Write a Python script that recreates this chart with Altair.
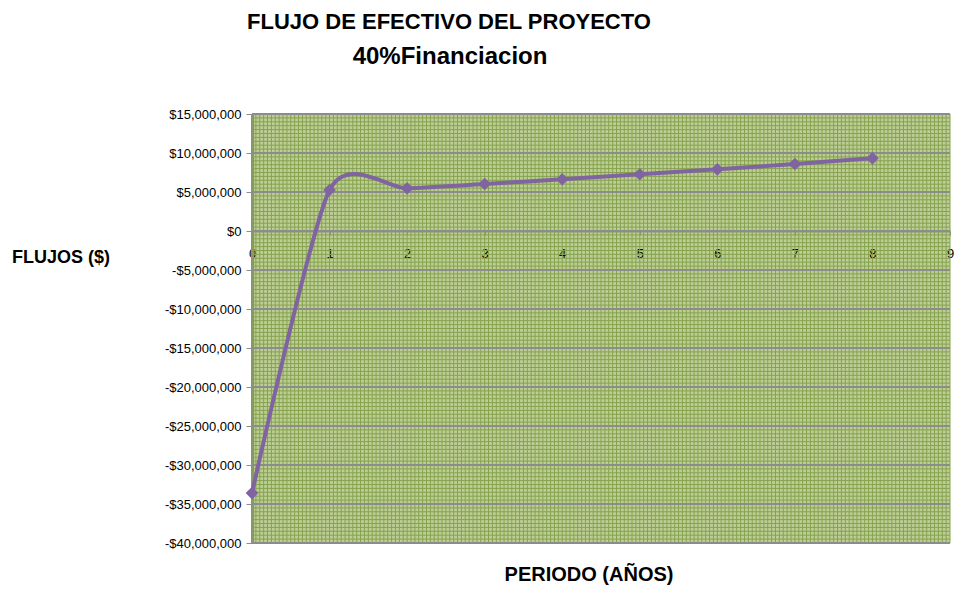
import altair as alt
import numpy as np
import pandas as pd

# ---- data ----
periods = [0, 1, 2, 3, 4, 5, 6, 7, 8]
flujos = [-33600000, 5260000, 5470000, 6030000, 6630000, 7270000, 7910000, 8590000, 9320000]
x_ticks = [0, 1, 2, 3, 4, 5, 6, 7, 8, 9]
y_ticks = [-40000000, -35000000, -30000000, -25000000, -20000000, -15000000,
           -10000000, -5000000, 0, 5000000, 10000000, 15000000]
title_1 = "FLUJO DE EFECTIVO DEL PROYECTO"
title_2 = "40%Financiacion"
x_title = "PERIODO (AÑOS)"
y_title = "FLUJOS ($)"

# background plaid (fine pattern lines)
pattern_x = np.round(np.arange(0, 9.0001, 0.05), 4)
pattern_y = np.arange(-40000000, 15000001, 500000)

W, H = 698, 429
FONT = "Liberation Sans"
PURPLE = "#8064A2"
GRID = "#8C8C8C"

df = pd.DataFrame({"periodo": periods, "flujo": flujos})
xs = alt.Scale(domain=[0, 9], nice=False, zero=False)
ys = alt.Scale(domain=[-40000000, 15000000], nice=False, zero=False)

zero_offset = -round(H * 40 / 55)

label_expr = ("datum.value < 0 ? '-$' + format(-datum.value, ',') : "
              "'$' + format(datum.value, ',')")

x_axis = alt.Axis(values=x_ticks, offset=zero_offset, labelFlush=False,
                  grid=False, domainColor=GRID, domainWidth=2,
                  tickColor=GRID, tickSize=4, tickWidth=1,
                  labelPadding=12, labelFontSize=13, labelFont=FONT,
                  labelColor="#000000", title=None, format="d")
y_axis = alt.Axis(values=y_ticks, labelExpr=label_expr, labelFlush=False,
                  grid=False, domainColor=GRID, domainWidth=3,
                  tickColor=GRID, tickSize=6, tickWidth=1,
                  labelPadding=5, labelFontSize=13, labelFont=FONT,
                  labelColor="#000000", title=None)

bg_x = alt.Chart(pd.DataFrame({"periodo": pattern_x})).mark_rule(
    color="#86A24E", strokeWidth=1
).encode(x=alt.X("periodo:Q", scale=xs, axis=x_axis))

bg_y = alt.Chart(pd.DataFrame({"flujo": pattern_y})).mark_rule(
    color="#86A24E", strokeWidth=1
).encode(y=alt.Y("flujo:Q", scale=ys, axis=y_axis))

major = alt.Chart(pd.DataFrame({"flujo": y_ticks})).mark_rule(
    color=GRID, strokeWidth=2
).encode(y=alt.Y("flujo:Q", scale=ys, axis=y_axis))

base = alt.Chart(df).encode(
    x=alt.X("periodo:Q", scale=xs, axis=x_axis),
    y=alt.Y("flujo:Q", scale=ys, axis=y_axis),
)

line = base.mark_line(interpolate="cardinal", tension=0.3, color=PURPLE, strokeWidth=4)
pts = base.mark_point(shape="diamond", filled=True, size=160, color=PURPLE, opacity=1)

def txt(s, x, y, size):
    return alt.Chart(pd.DataFrame({"t": [s]})).mark_text(
        font=FONT, fontWeight="bold", fontSize=size, color="#000000",
        align="center", baseline="middle"
    ).encode(text="t:N", x=alt.value(x), y=alt.value(y))

t1 = txt(title_1, 197, -92, 22)
t2 = txt(title_2, 198, -57, 24)
ty = txt(y_title, -191, 144, 18)
tx = txt(x_title, 337, 461, 20)

chart = alt.layer(bg_x, bg_y, major, line, pts, t1, t2, ty, tx).properties(
    width=W, height=H,
    autosize=alt.AutoSizeParams(type="none"),
    padding={"left": 244, "top": 106, "right": 6, "bottom": 47},
).configure_view(strokeWidth=0, fill="#BCCE95")

chart.save("out.html", embed_options={"renderer": "svg", "actions": False})
